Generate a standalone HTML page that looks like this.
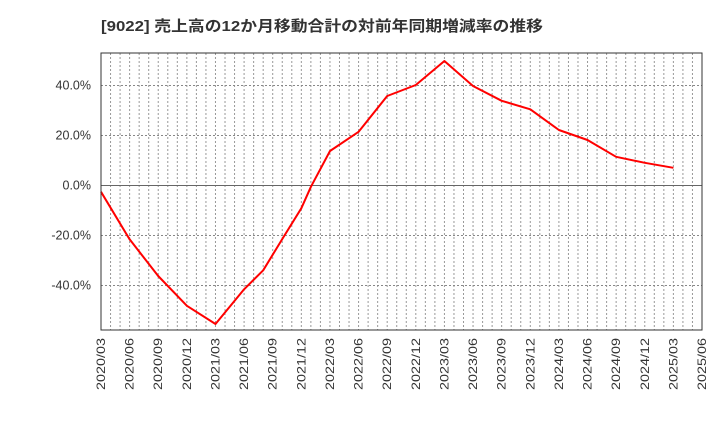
<!DOCTYPE html>
<html><head><meta charset="utf-8"><style>
body{margin:0;background:#fff;}
svg{display:block;font-family:"Liberation Sans","Noto Sans CJK JP",sans-serif;}
</style></head><body>
<svg id="chart" width="720" height="440" xmlns="http://www.w3.org/2000/svg">
<text x="101" y="31" font-size="15" font-weight="bold" fill="#333" textLength="442" lengthAdjust="spacingAndGlyphs">[9022]  売上高の12か月移動合計の対前年同期増減率の推移</text>
<g id="grid"></g>
<g id="yaxis"></g>
<g id="xaxis"></g>
<g id="series"></g>
<rect x="101" y="53" width="601" height="277" fill="none" stroke="#333" stroke-width="1"/>
</svg>
<script>
const months = [0,3,6,9,12,15,17,19,21,22,24,27,30,33,36,39,42,45,48,51,54,57,60];
const values = [-2.5,-21.5,-36.2,-48.1,-55.4,-41.5,-33.9,-21.4,-9.1,-0.5,13.8,21.5,35.8,40.2,49.8,39.8,33.9,30.5,22.2,18.2,11.5,9.1,7.1];
const xLabels = ["2020/03","2020/06","2020/09","2020/12","2021/03","2021/06","2021/09","2021/12","2022/03","2022/06","2022/09","2022/12","2023/03","2023/06","2023/09","2023/12","2024/03","2024/06","2024/09","2024/12","2025/03","2025/06"];
const yTicks = [-40,-20,0,20,40];
const X0=101,X1=702,Y0=53,Y1=330,totalMonths=63;
const yMax=53,yMin=-57.8;
const NS="http://www.w3.org/2000/svg";
function xs(m){return X0+(X1-X0)*m/totalMonths;}
function ys(v){return Y0+(yMax-v)/(yMax-yMin)*(Y1-Y0);}
function mk(tag,attrs,parent){const e=document.createElementNS(NS,tag);for(const k in attrs)e.setAttribute(k,attrs[k]);parent.appendChild(e);return e;}
const grid=document.getElementById('grid'),ya=document.getElementById('yaxis'),xa=document.getElementById('xaxis'),ser=document.getElementById('series');
for(let m=1;m<totalMonths;m++){
  const l=mk('line',{x1:xs(m),x2:xs(m),y1:Y0,y2:Y1,stroke:'#999','stroke-width':1,'stroke-dasharray':'2,2'},grid);
  
  
}
yTicks.forEach(v=>{
  const y=ys(v);
  const l=mk('line',{x1:X0,x2:X1,y1:y,y2:y,stroke:v===0?'#666':'#888','stroke-width':1,'stroke-dasharray':v===0?'none':'2,2'},grid);
  
  
  const t=mk('text',{x:X0-10,y:y+4,'text-anchor':'end','font-size':12.5,fill:'#333'},ya);
  t.textContent=v.toFixed(1)+'%';
  
  
});
xLabels.forEach((s,i)=>{
  const x=xs(i*3);
  const t=mk('text',{x:x+4,y:Y1+8,'text-anchor':'end','font-size':12,fill:'#333',textLength:52,lengthAdjust:'spacingAndGlyphs',transform:`rotate(-90 ${x+4} ${Y1+8})`},xa);
  t.textContent=s;
  
  
});
const pts=months.map((m,i)=>xs(m).toFixed(1)+','+ys(values[i]).toFixed(1)).join(' ');
const p=mk('polyline',{points:pts,fill:'none',stroke:'#f00','stroke-width':2,'stroke-linejoin':'round'},ser);


</script>
</body></html>
